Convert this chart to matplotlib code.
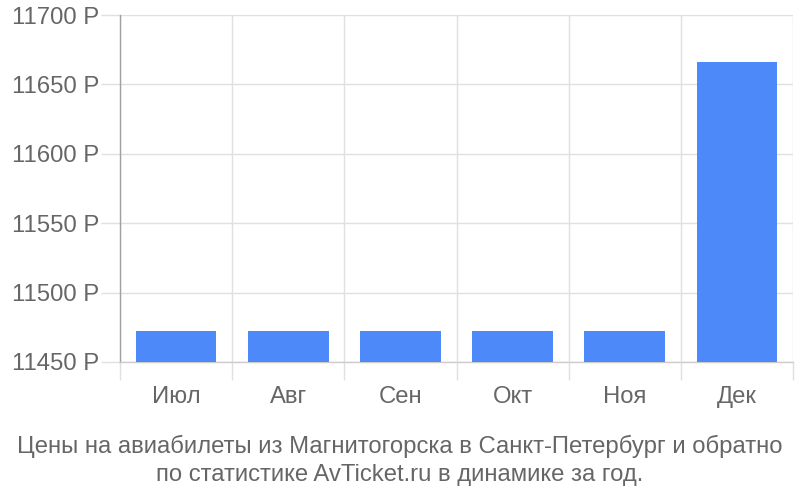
import numpy as np
import matplotlib
matplotlib.use('Agg')
import matplotlib.pyplot as plt
from matplotlib.ticker import FixedLocator, FuncFormatter

months = ['Июл', 'Авг', 'Сен', 'Окт', 'Ноя', 'Дек']
prices = [11472, 11472, 11472, 11472, 11472, 11666]
yticks = [11450, 11500, 11550, 11600, 11650, 11700]
title = ('Цены на авиабилеты из Магнитогорска в Санкт-Петербург и обратно\n'
         'по статистике AvTicket.ru в динамике за год.')

plt.rcParams['font.family'] = ['Liberation Sans', 'DejaVu Sans']
txt = '#666666'
grid = '#e0e0e0'

fig = plt.figure(figsize=(8, 5), dpi=100)
ax = fig.add_axes([0.15, 0.276, 0.84125, 0.694])

x = np.arange(len(months))
ax.bar(x, prices, width=0.72, color='#4d89f9', zorder=3)

ax.set_xlim(-0.5, len(months) - 0.5)
ax.set_ylim(yticks[0], yticks[-1])

ax.set_yticks(yticks)
ax.yaxis.set_major_formatter(FuncFormatter(lambda v, p: '%d P' % v))
ax.tick_params(axis='y', length=14, width=1, color=grid, labelsize=17.2,
               labelcolor=txt, pad=1)

ax.set_xticks(x)
ax.set_xticklabels(months)
ax.tick_params(axis='x', which='major', length=0, labelsize=17.2,
               labelcolor=txt, pad=17)
ax.xaxis.set_minor_locator(FixedLocator(np.arange(-0.5, len(months), 1.0)))
ax.tick_params(axis='x', which='minor', length=13, width=1, color=grid)
ax.xaxis.get_minor_ticks()[0].tick1line.set_color('#a0a0a0')

ax.grid(True, axis='y', color=grid, linewidth=1, zorder=0)
ax.grid(True, axis='x', which='minor', color=grid, linewidth=1, zorder=0)

for s in ['top', 'right']:
    ax.spines[s].set_visible(False)
ax.spines['left'].set_color('#a0a0a0')
ax.spines['bottom'].set_color('#cccccc')
ax.spines['left'].set_linewidth(1)
ax.spines['bottom'].set_linewidth(1)

fig.text(0.5, 0.079, title, ha='center', va='center', fontsize=17.2,
         color=txt, linespacing=1.38)

fig.savefig('out.png', dpi=100)
